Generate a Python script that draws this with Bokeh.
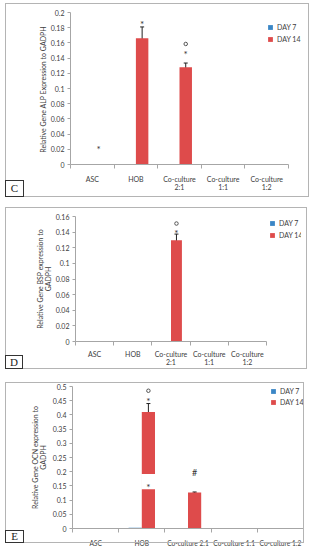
from bokeh.plotting import figure
from bokeh.models import (Range1d, FixedTicker, Whisker, ColumnDataSource, Legend,
                          LegendItem, TeeHead, GridBox, Div)
from bokeh.layouts import column
from bokeh.embed import file_html
from bokeh.resources import INLINE
from bokeh.core.properties import value

# ---------------- data ----------------
groups = ["ASC", "HOB", "Co-culture 2:1", "Co-culture 1:1", "Co-culture 1:2"]
labels_two_line = ["ASC", "HOB", "Co-culture\n2:1", "Co-culture\n1:1", "Co-culture\n1:2"]
labels_one_line = ["ASC", "HOB", "Co-culture 2:1", "Co-culture 1:1", "Co-culture 1:2"]
series = ["DAY 7", "DAY 14"]

# Panel C : ALP
alp_day7 = [0.0003, 0.0003, 0.0003, 0.0003, 0.0003]
alp_day14 = [0.0003, 0.166, 0.128, 0.0003, 0.0004]
alp_err14 = [0.0, 0.015, 0.0055, 0.0, 0.0]
alp_ticks = [0, 0.02, 0.04, 0.06, 0.08, 0.1, 0.12, 0.14, 0.16, 0.18, 0.2]
alp_tick_labels = ["0", "0.02", "0.04", "0.06", "0.08", "0.1", "0.12", "0.14", "0.16", "0.18", "0.2"]
alp_star_grp = ["ASC", "HOB", "Co-culture 2:1"]
alp_star_val = [0.025, 0.189, 0.149]
alp_circ_grp = ["Co-culture 2:1"]
alp_circ_val = [0.1586]

# Panel D : BSP
bsp_day7 = [0.0002, 0.0002, 0.0002, 0.0002, 0.0002]
bsp_day14 = [0.0002, 0.0006, 0.1295, 0.0004, 0.0002]
bsp_err14 = [0.0, 0.0, 0.008, 0.0, 0.0]
bsp_ticks = [0, 0.02, 0.04, 0.06, 0.08, 0.1, 0.12, 0.14, 0.16]
bsp_tick_labels = ["0", "0.02", "0.04", "0.06", "0.08", "0.1", "0.12", "0.14", "0.16"]
bsp_star_grp = ["Co-culture 2:1"]
bsp_star_val = [0.143]
bsp_circ_grp = ["Co-culture 2:1"]
bsp_circ_val = [0.151]

# Panel E : OCN
ocn_day7 = [0.001, 0.003, 0.002, 0.001, 0.001]
ocn_day14 = [0.002, 0.41, 0.1266, 0.002, 0.002]
ocn_err14 = [0.0, 0.03, 0.002, 0.0, 0.0]
ocn_ticks = [0, 0.05, 0.1, 0.15, 0.2, 0.25, 0.3, 0.35, 0.4, 0.45, 0.5]
ocn_tick_labels = ["0", "0.05", "0.1", "0.15", "0.2", "0.25", "0.3", "0.35", "0.4", "0.45", "0.5"]
ocn_star_grp = ["HOB", "HOB"]
ocn_star_val = [0.459, 0.158]
ocn_circ_grp = ["HOB"]
ocn_circ_val = [0.485]
ocn_hash_grp = ["Co-culture 2:1"]
ocn_hash_val = [0.198]
ocn_gap_grp = ["HOB"]          # white label box drawn over the bar
ocn_gap_low = [0.138]
ocn_gap_high = [0.192]

# ---------------- style ----------------
C7 = "#3A86C6"
C14 = "#DE4B4B"
TXT = "#404040"
AX = "#A6A6A6"
FONT = "Lato"
BAR_W = 1 / 3.5
OFF = BAR_W / 2
N = len(groups)


def idx(g):
    return groups.index(g) + 0.5 + OFF   # DAY 14 position


def make_panel(W, H, ml, mr, mt, mb, axis_px, ymax, ticks, tick_labels, xlabels, xfs,
               d7, d14, e14, ytitle, leg_loc, leg_spacing, xstd, ylstd):
    fw = W - ml - mr
    p = figure(width=W, height=H, x_range=Range1d(0, N * fw / axis_px), y_range=Range1d(0, ymax),
               output_backend="svg", toolbar_location=None,
               min_border_left=ml, min_border_right=mr, min_border_top=mt, min_border_bottom=mb)
    p.outline_line_color = None
    p.xgrid.visible = False
    p.ygrid.visible = False
    p.background_fill_color = "white"
    p.border_fill_alpha = 0

    xs = [i + 0.5 for i in range(N)]
    s7 = ColumnDataSource(dict(x=[x - OFF for x in xs], top=d7))
    s14 = ColumnDataSource(dict(x=[x + OFF for x in xs], top=d14))
    r7 = p.vbar(x="x", top="top", width=BAR_W, source=s7, fill_color=C7, line_color=None)
    r14 = p.vbar(x="x", top="top", width=BAR_W, source=s14, fill_color=C14, line_color=None)

    ex = [x + OFF for x, e in zip(xs, e14) if e > 0]
    ev = [(v, e) for v, e in zip(d14, e14) if e > 0]
    se = ColumnDataSource(dict(x=ex, upper=[v + e for v, e in ev], lower=[v - e for v, e in ev]))
    p.add_layout(Whisker(source=se, base="x", upper="upper", lower="lower", line_color="#222222",
                         line_width=1,
                         upper_head=TeeHead(size=4, line_color="#222222", line_width=1),
                         lower_head=TeeHead(size=4, line_color="#222222", line_width=1)))

    xa = p.xaxis[0]
    xa.bounds = (0, N)
    xa.ticker = FixedTicker(ticks=xs, minor_ticks=list(range(N + 1)))
    xa.major_label_overrides = {x: l for x, l in zip(xs, xlabels)}
    xa.major_tick_out = 0
    xa.major_tick_in = 0
    xa.minor_tick_out = 4
    xa.minor_tick_in = 0
    xa.minor_tick_line_color = AX
    xa.axis_line_color = AX
    xa.major_label_standoff = xstd
    xa.major_label_text_font = FONT
    xa.major_label_text_font_size = xfs
    xa.major_label_text_color = TXT
    xa.major_label_text_line_height = 1.1

    ya = p.yaxis[0]
    ya.ticker = FixedTicker(ticks=ticks)
    ya.major_label_overrides = {t: l for t, l in zip(ticks, tick_labels)}
    ya.major_tick_out = 3
    ya.major_tick_in = 0
    ya.major_tick_line_color = AX
    ya.minor_tick_line_color = None
    ya.axis_line_color = AX
    ya.major_label_standoff = 3
    ya.major_label_text_font = FONT
    ya.major_label_text_font_size = "7px"
    ya.major_label_text_color = TXT
    ya.axis_label = ytitle
    ya.axis_label_text_font = FONT
    ya.axis_label_text_font_size = "7px"
    ya.axis_label_text_font_style = "normal"
    ya.axis_label_text_color = TXT
    ya.axis_label_standoff = ylstd
    ya.axis_label_text_line_height = 1.0

    legend = Legend(items=[LegendItem(label=series[0], renderers=[r7]),
                           LegendItem(label=series[1], renderers=[r14])],
                    location=leg_loc, orientation="vertical",
                    glyph_width=6, glyph_height=6, label_height=10, label_width=10,
                    label_standoff=4, spacing=leg_spacing, padding=0, margin=0,
                    border_line_color=None, background_fill_alpha=0,
                    label_text_font=FONT, label_text_font_size="7px",
                    label_text_color=TXT)
    p.add_layout(legend)
    return p


def add_marks(p, star_grp, star_val, circ_grp, circ_val):
    st = ColumnDataSource(dict(x=[idx(g) for g in star_grp], y=star_val, t=["*"] * len(star_val)))
    p.text(x="x", y="y", text="t", source=st, text_font=value(FONT), text_font_size="10px",
           text_align="center", text_baseline="middle", y_offset=3, text_color="#333333")
    if circ_grp:
        sc = ColumnDataSource(dict(x=[idx(g) for g in circ_grp], y=circ_val))
        p.scatter(x="x", y="y", source=sc, marker="circle", size=3.5, fill_color=None,
                  line_color="#555555", line_width=1)


def assemble(p, W, H, BH, lw, lh, letter, margin):
    # panel border (height BH) and corner letter box, laid over the plot in the same grid cell
    html = (f'<div style="position:relative;width:{W}px;height:{BH}px;box-sizing:border-box;'
            f'border:1px solid #B4B4B4;">'
            f'<div style="position:absolute;left:-1px;bottom:-1px;width:{lw}px;height:{lh}px;'
            f'box-sizing:border-box;border:1px solid #333333;background:#ffffff;'
            f'font-family:\'Liberation Serif\';font-size:11px;line-height:{lh - 2}px;'
            f'text-align:center;color:#222222;">{letter}</div></div>')
    d = Div(text=html, width=W, height=BH, margin=0, align="start")
    g = GridBox(children=[(p, 0, 0), (d, 0, 0)],
                rows=[f"{H}px"], cols=[f"{W}px"], spacing=0)
    g.margin = margin
    return g


# Panel C
pC = make_panel(304, 194, 65, 4, 9, 33, 218, 0.2, alp_ticks, alp_tick_labels, labels_two_line, "7px",
                alp_day7, alp_day14, alp_err14, "Relative Gene ALP  Expression to GADPH",
                (197, 120), 2, 6, 1)
add_marks(pC, alp_star_grp, alp_star_val, alp_circ_grp, alp_circ_val)

# Panel D
pD = make_panel(302, 162, 70, 6, 9, 25, 191, 0.16, bsp_ticks, bsp_tick_labels, labels_two_line, "7px",
                bsp_day7, bsp_day14, bsp_err14, "Relative Gene BSP expression to\nGADPH",
                (194, 101), 2, 4, 1)
add_marks(pD, bsp_star_grp, bsp_star_val, bsp_circ_grp, bsp_circ_val)

# Panel E (figure a little taller than its border so the labels may overlap it)
pE = make_panel(299, 167, 67, 1, 4, 18, 231, 0.5, ocn_ticks, ocn_tick_labels, labels_one_line, "6.6px",
                ocn_day7, ocn_day14, ocn_err14, "Relative Gene OCN expression to\nGADPH",
                (198, 121), 1, 6, 3)
gap = ColumnDataSource(dict(left=[idx(g) - BAR_W * 0.55 for g in ocn_gap_grp],
                            right=[idx(g) + BAR_W * 0.55 for g in ocn_gap_grp],
                            bottom=ocn_gap_low, top=ocn_gap_high))
pE.quad(left="left", right="right", bottom="bottom", top="top", source=gap,
        fill_color="white", line_color=None)
add_marks(pE, ocn_star_grp, ocn_star_val, ocn_circ_grp, ocn_circ_val)
hs = ColumnDataSource(dict(x=[idx(g) for g in ocn_hash_grp], y=ocn_hash_val, t=["#"] * len(ocn_hash_val)))
pE.text(x="x", y="y", text="t", source=hs, text_font=value(FONT), text_font_size="9px",
        text_align="center", text_baseline="middle", text_color="#333333")

gC = assemble(pC, 304, 194, 194, 19, 17, "C", (3, 0, 0, 5))
gD = assemble(pD, 302, 162, 162, 18, 14, "D", (10, 0, 0, 5))
gE = assemble(pE, 299, 167, 161, 19, 13, "E", (13, 0, 0, 5))

layout = column(gC, gD, gE, spacing=0)
open("out.html", "w").write(file_html(layout, INLINE))
